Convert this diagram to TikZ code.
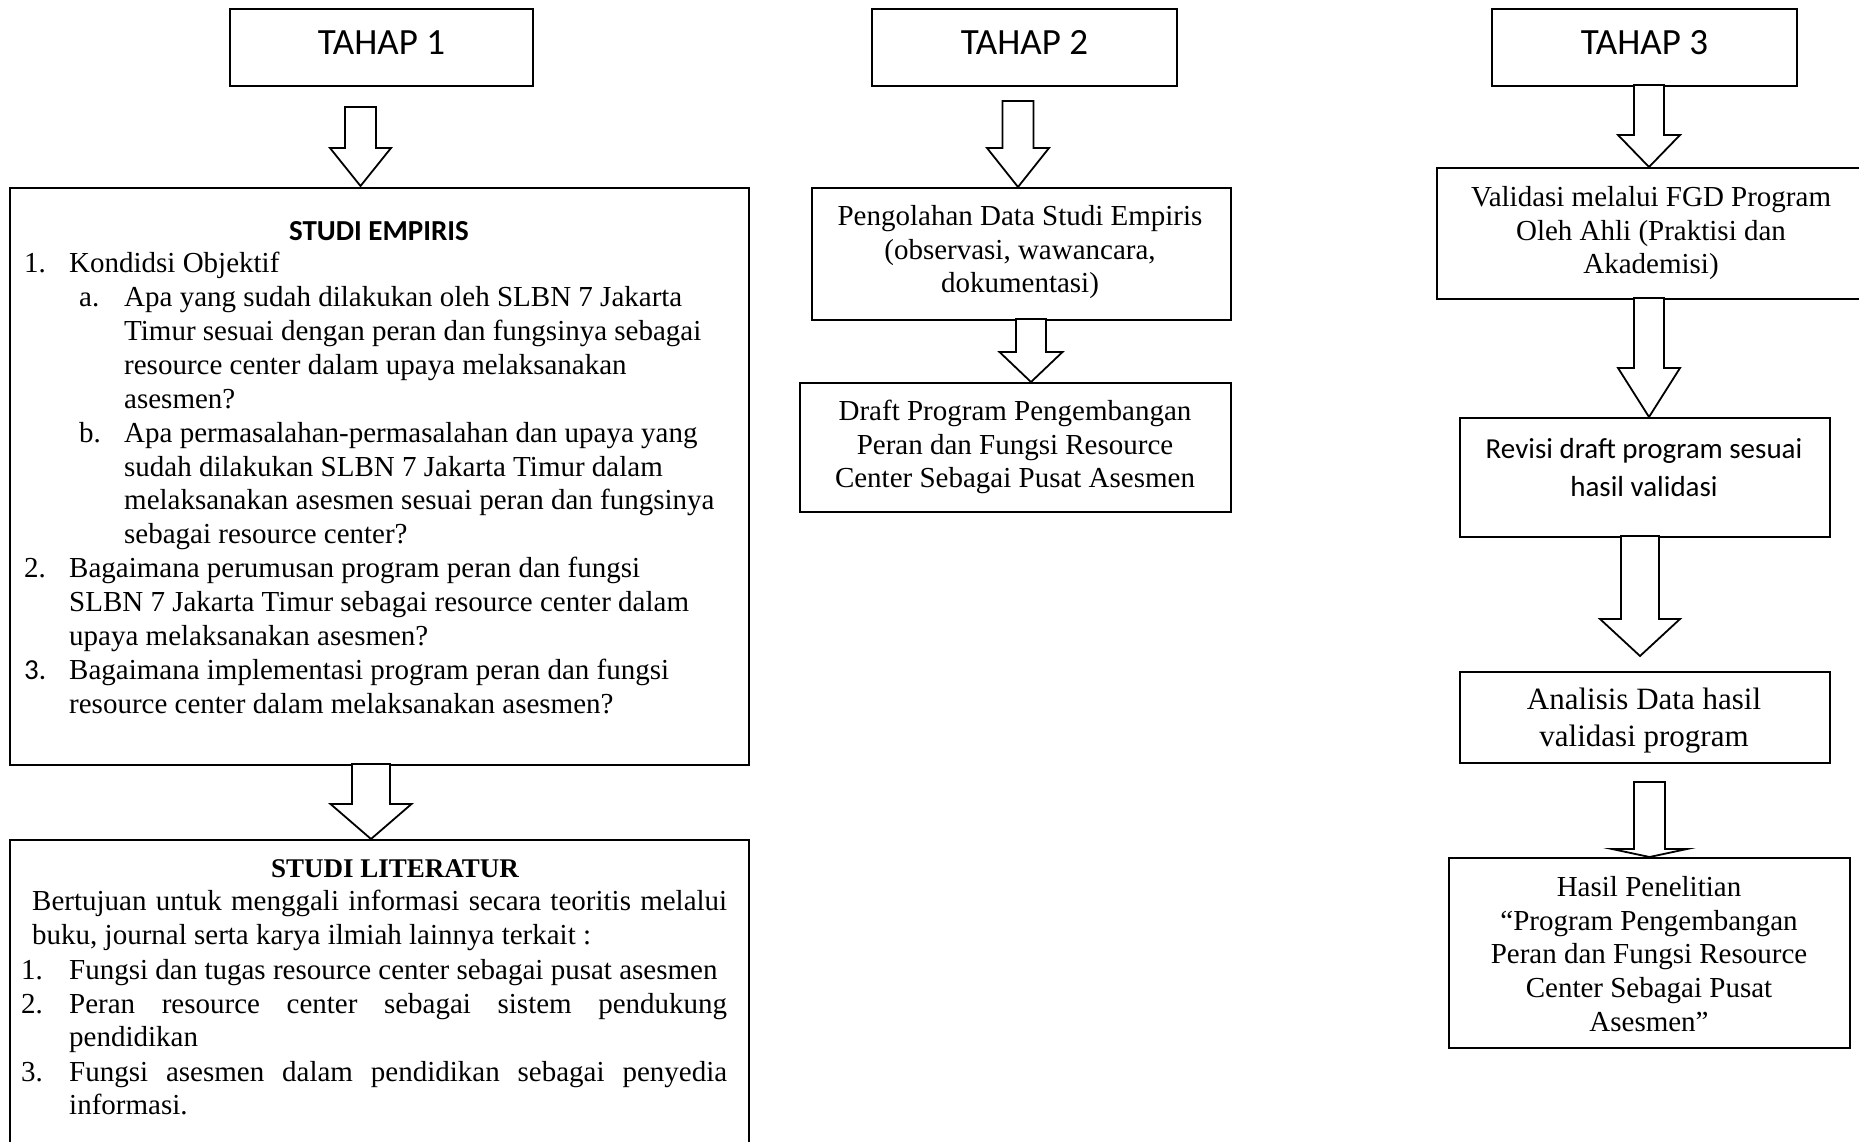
\documentclass[tikz,border=0pt]{standalone}
\usepackage{fontspec}
\setmainfont{Liberation Serif}
\newfontfamily\calfont{Carlito}
\begin{document}
\begin{tikzpicture}[x=1pt,y=-1pt,
  box/.style={draw=black, line width=1.8pt, inner sep=0, anchor=north west},
  arr/.style={draw=black, line width=1.8pt, fill=white, line join=miter},
  tx/.style={inner sep=0, font=\fontsize{29}{34}\selectfont},
  txa/.style={inner sep=0, font=\fontsize{31}{37}\selectfont},
  cal/.style={inner sep=0, font=\calfont\fontsize{29}{34}\selectfont},
  calt/.style={inner sep=0, font=\calfont\fontsize{37}{44}\selectfont},
  calb/.style={inner sep=0, font=\calfont\bfseries\fontsize{29}{34}\selectfont},
  tmb/.style={inner sep=0, font=\bfseries\fontsize{27}{34}\selectfont}]
\newcommand\barrow[6]{%
  \draw[arr] ({#1-#5},#2) -- ({#1-#5},#3) -- ({#1-#6},#3) -- (#1,#4) -- ({#1+#6},#3) -- ({#1+#5},#3) -- ({#1+#5},#2) -- cycle;}
\fill[white] (0,0) rectangle (1859,1142);
\useasboundingbox (0,0) rectangle (1859,1142);
\clip (0,0) rectangle (1859,1142);

% ---------- column 1 ----------
\node[box, minimum width=303pt, minimum height=77pt] (t1) at (229,8) {};
\node[calt] (t1txt) at ([yshift=5pt]t1.center) {TAHAP 1};
\node[box, minimum width=739pt, minimum height=577pt] (emp) at (9,187) {};
\node[box, minimum width=739pt, minimum height=331pt] (lit) at (9,839) {};
\barrow{360.5}{107}{148}{186}{15.5}{30.5}
\barrow{371}{764}{804}{839}{19}{40.5}

\node[calb, anchor=base] (etitle) at (379,240) {STUDI EMPIRIS};
\node[tx, anchor=base west] (en1) at (24,272) {1.};
\node[tx, anchor=base west] (e1) at (69,272) {Kondidsi Objektif};
\node[tx, anchor=base west] (ena) at (79,306) {a.};
\node[tx, anchor=base west] (e2) at (124,306) {Apa yang sudah dilakukan oleh SLBN 7 Jakarta};
\node[tx, anchor=base west] (e3) at (124,340) {Timur sesuai dengan peran dan fungsinya sebagai};
\node[tx, anchor=base west] (e4) at (124,374) {resource center dalam upaya melaksanakan};
\node[tx, anchor=base west] (e5) at (124,408) {asesmen?};
\node[tx, anchor=base west] (enb) at (79,442) {b.};
\node[tx, anchor=base west] (e6) at (124,442) {Apa permasalahan-permasalahan dan upaya yang};
\node[tx, anchor=base west] (e7) at (124,476) {sudah dilakukan SLBN 7 Jakarta Timur dalam};
\node[tx, anchor=base west] (e8) at (124,509) {melaksanakan asesmen sesuai peran dan fungsinya};
\node[tx, anchor=base west] (e9) at (124,543) {sebagai resource center?};
\node[tx, anchor=base west] (en2) at (24,577) {2.};
\node[tx, anchor=base west] (e10) at (69,577) {Bagaimana perumusan program peran dan fungsi};
\node[tx, anchor=base west] (e11) at (69,611) {SLBN 7 Jakarta Timur sebagai resource center dalam};
\node[tx, anchor=base west] (e12) at (69,645) {upaya melaksanakan asesmen?};
\node[cal, anchor=base west] (en3) at (24,679) {3.};
\node[tx, anchor=base west] (e13) at (69,679) {Bagaimana implementasi program peran dan fungsi};
\node[tx, anchor=base west] (e14) at (69,713) {resource center dalam melaksanakan asesmen?};

\node[tmb, anchor=base] (ltitle) at (395,877) {STUDI LITERATUR};
\node[tx, anchor=base west] (l1) at (32,910) {\makebox[695pt][s]{Bertujuan untuk menggali informasi secara teoritis melalui}};
\node[tx, anchor=base west] (l2) at (32,944) {buku, journal serta karya ilmiah lainnya terkait :};
\node[tx, anchor=base west] (ln1) at (21,979) {1.};
\node[tx, anchor=base west] (l3) at (69,979) {Fungsi dan tugas resource center sebagai pusat asesmen};
\node[tx, anchor=base west] (ln2) at (21,1013) {2.};
\node[tx, anchor=base west] (l4) at (69,1013) {\makebox[658pt][s]{Peran resource center sebagai sistem pendukung}};
\node[tx, anchor=base west] (l5) at (69,1046) {pendidikan};
\node[tx, anchor=base west] (ln3) at (21,1081) {3.};
\node[tx, anchor=base west] (l6) at (69,1081) {\makebox[658pt][s]{Fungsi asesmen dalam pendidikan sebagai penyedia}};
\node[tx, anchor=base west] (l7) at (69,1114) {informasi.};

% ---------- column 2 ----------
\node[box, minimum width=305pt, minimum height=77pt] (t2) at (871,8) {};
\node[calt] (t2txt) at ([yshift=5pt]t2.center) {TAHAP 2};
\node[box, minimum width=419pt, minimum height=132pt] (peng) at (811,187) {};
\node[box, minimum width=431pt, minimum height=129pt] (draft) at (799,382) {};
\barrow{1018}{101}{148}{187}{15.5}{31}
\barrow{1031}{319}{352}{382}{15}{31.5}

\node[tx, anchor=base] (p1) at (1020,225) {Pengolahan Data Studi Empiris};
\node[tx, anchor=base] (p2) at (1020,259) {(observasi, wawancara,};
\node[tx, anchor=base] (p3) at (1020,292) {dokumentasi)};
\node[tx, anchor=base] (d1) at (1015,420) {Draft Program Pengembangan};
\node[tx, anchor=base] (d2) at (1015,454) {Peran dan Fungsi Resource};
\node[tx, anchor=base] (d3) at (1015,487) {Center Sebagai Pusat Asesmen};

% ---------- column 3 ----------
\node[box, minimum width=305pt, minimum height=77pt] (t3) at (1491,8) {};
\node[calt] (t3txt) at ([yshift=5pt]t3.center) {TAHAP 3};
\node[box, minimum width=444pt, minimum height=131pt] (val) at (1436,167) {};
\node[box, minimum width=370pt, minimum height=119pt] (rev) at (1459,417) {};
\node[box, minimum width=370pt, minimum height=91pt] (ana) at (1459,671) {};
\node[box, minimum width=401pt, minimum height=190pt] (has) at (1448,857) {};
\barrow{1649}{85}{135}{167}{15}{31}
\barrow{1649}{298}{368}{417}{15}{31}
\barrow{1640}{536}{619}{656}{19}{40}
\barrow{1649.5}{782}{849}{857}{15.5}{37.5}

\node[tx, anchor=base] (v1) at (1651,206) {Validasi melalui FGD Program};
\node[tx, anchor=base] (v2) at (1651,240) {Oleh Ahli (Praktisi dan};
\node[tx, anchor=base] (v3) at (1651,273) {Akademisi)};
\node[cal, anchor=base] (r1) at (1644,458) {Revisi draft program sesuai};
\node[cal, anchor=base] (r2) at (1644,496) {hasil validasi};
\node[txa, anchor=base] (a1) at (1644,709) {Analisis Data hasil};
\node[txa, anchor=base] (a2) at (1644,746) {validasi program};
\node[tx, anchor=base] (h1) at (1649,896) {Hasil Penelitian};
\node[tx, anchor=base] (h2) at (1649,930) {“Program Pengembangan};
\node[tx, anchor=base] (h3) at (1649,963) {Peran dan Fungsi Resource};
\node[tx, anchor=base] (h4) at (1649,997) {Center Sebagai Pusat};
\node[tx, anchor=base] (h5) at (1649,1031) {Asesmen”};
\end{tikzpicture}
\end{document}
